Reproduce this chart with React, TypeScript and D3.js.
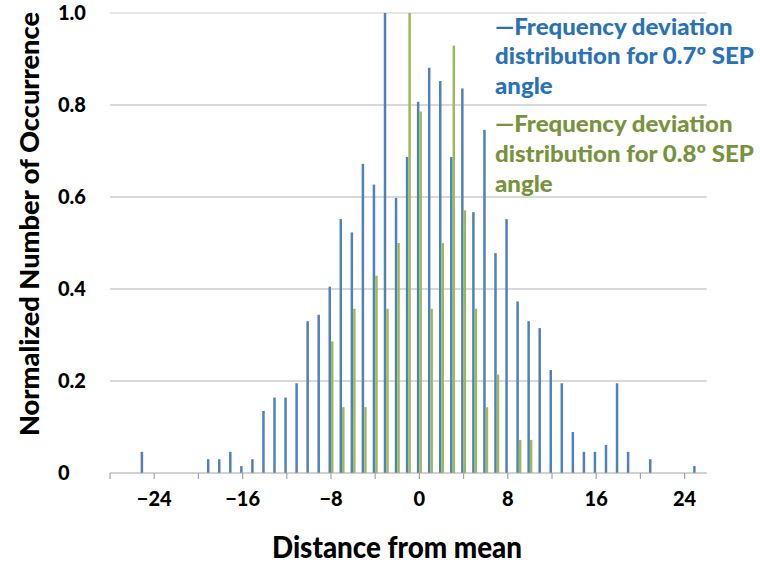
import React from "react";
import * as d3 from "d3";

const blueCategories = [-25, -19, -18, -17, -16, -15, -14, -13, -12, -11, -10, -9, -8, -7, -6, -5, -4, -3, -2, -1, 0, 1, 2, 3, 4, 5, 6, 7, 8, 9, 10, 11, 12, 13, 14, 15, 16, 17, 18, 19, 21, 25];
const blueValues = [0.046, 0.030, 0.030, 0.046, 0.015, 0.030, 0.135, 0.164, 0.164, 0.195, 0.330, 0.344, 0.405, 0.552, 0.523, 0.672, 0.627, 1.0, 0.598, 0.687, 0.807, 0.881, 0.852, 0.687, 0.836, 0.567, 0.746, 0.478, 0.552, 0.373, 0.330, 0.315, 0.224, 0.195, 0.089, 0.046, 0.046, 0.061, 0.195, 0.046, 0.030, 0.015];
const greenCategories = [-8, -7, -6, -5, -4, -3, -2, -1, 0, 1, 2, 3, 4, 5, 6, 7, 9, 10];
const greenValues = [0.286, 0.143, 0.357, 0.143, 0.429, 0.357, 0.5, 1.0, 0.786, 0.357, 0.5, 0.929, 0.571, 0.357, 0.143, 0.214, 0.072, 0.072];
const xTicks = [-28, -24, -20, -16, -12, -8, -4, 0, 4, 8, 12, 16, 20, 24];
const xLabels = [-24, -16, -8, 0, 8, 16, 24];
const yTicks = [0, 0.2, 0.4, 0.6, 0.8, 1.0];
const yLabels = ["0", "0.2", "0.4", "0.6", "0.8", "1.0"];
const legend1 = ["—Frequency deviation", "distribution for 0.7º SEP", "angle"];
const legend2 = ["—Frequency deviation", "distribution for 0.8º SEP", "angle"];

const W = 760, H = 565;
const left = 110, right = 706.7, top = 13, bottom = 473;
const FONT = "Lato, 'Open Sans', sans-serif";
const WEIGHT = 900;

export default function App() {
  const x = d3.scaleLinear().domain([-28, 26]).range([left, right]);
  const y = d3.scaleLinear().domain([0, 1]).range([bottom, top]);
  const bw = 2.5;
  return (
    <div style={{ position: "absolute", left: 0, top: 0 }}>
      <svg width={W} height={H} style={{ display: "block", background: "#fff" }}>
        {yTicks.slice(1).map((t, i) => (
          <line key={"g" + i} x1={left} x2={right} y1={y(t)} y2={y(t)} stroke={t === 1 ? "#d0d0d0" : "#b3b3b3"} strokeWidth={1.2} />
        ))}
        {blueCategories.map((c, i) => (
          <rect key={"b" + i} x={x(c) - bw} y={y(blueValues[i])} width={bw} height={y(0) - y(blueValues[i])} fill="#4F81BD" />
        ))}
        {greenCategories.map((c, i) => (
          <rect key={"gr" + i} x={x(c)} y={y(greenValues[i])} width={bw} height={y(0) - y(greenValues[i])} fill="#9BBB59" />
        ))}
        <line x1={left} x2={right} y1={bottom} y2={bottom} stroke="#a6a6a6" strokeWidth={1.2} />
        {xTicks.map((t, i) => (
          <line key={"t" + i} x1={x(t)} x2={x(t)} y1={bottom} y2={bottom + 6} stroke="#a6a6a6" strokeWidth={1.2} />
        ))}
        {xLabels.map((t, i) => (
          <text key={"xl" + i} x={x(t)} y={506} textAnchor="middle" fontFamily={FONT} fontWeight={WEIGHT} fontSize={20} fill="#000">
            {t < 0 ? "−" + Math.abs(t) : String(t)}
          </text>
        ))}
        {yTicks.map((t, i) => (
          <text key={"yl" + i} x={58} y={y(t) + 7} textAnchor="start" fontFamily={FONT} fontWeight={WEIGHT} fontSize={20} fill="#000">
            {yLabels[i]}
          </text>
        ))}
        <text x={272} y={558} textLength={250} lengthAdjust="spacingAndGlyphs" fontFamily={FONT} fontWeight={WEIGHT} fontSize={30} fill="#000">Distance from mean</text>
        <text transform={`translate(39,436) rotate(-90)`} textLength={424} lengthAdjust="spacingAndGlyphs" fontFamily={FONT} fontWeight={WEIGHT} fontSize={27} fill="#000">Normalized Number of Occurrence</text>
        <g transform="translate(495,0) scale(1.045,1)">
          {legend1.map((s, i) => (
            <text key={"l1" + i} x={0} y={35 + i * 29.5} fontFamily={FONT} fontWeight={WEIGHT} fontSize={23} fill="#2A72B8">{s}</text>
          ))}
          {legend2.map((s, i) => (
            <text key={"l2" + i} x={0} y={132 + i * 30} fontFamily={FONT} fontWeight={WEIGHT} fontSize={23} fill="#77933C">{s}</text>
          ))}
        </g>
      </svg>
    </div>
  );
}
